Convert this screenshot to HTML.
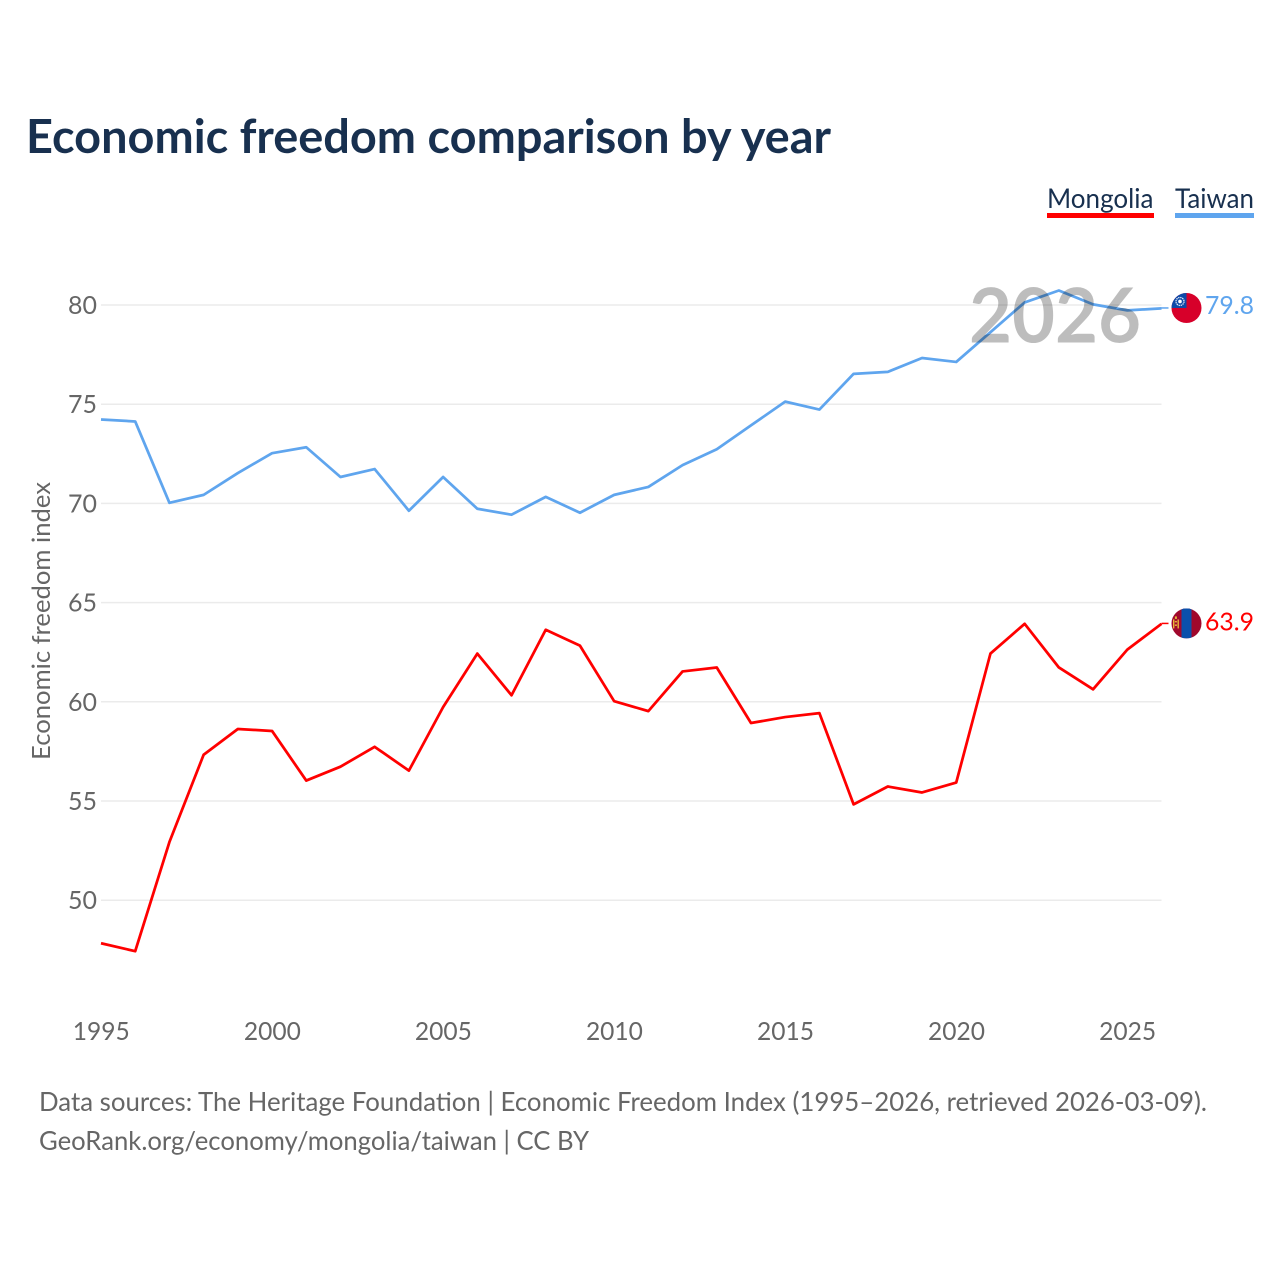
<!DOCTYPE html>
<html lang="en">
<head>
<meta charset="utf-8">
<title>Economic freedom comparison by year</title>
<style>
html,body{margin:0;padding:0;background:#fff;}
svg{display:block;}
text{font-family:"Lato","Carlito","Liberation Sans",sans-serif;}
</style>
</head>
<body>
<svg id="chart" width="1280" height="1280" viewBox="0 0 1280 1280" xmlns="http://www.w3.org/2000/svg">
  <defs>
    <clipPath id="clip-tw"><circle cx="0" cy="0" r="15"/></clipPath>
    <clipPath id="clip-mn"><circle cx="0" cy="0" r="15"/></clipPath>
  </defs>
  <rect x="0" y="0" width="1280" height="1280" fill="#ffffff"/>
  <text x="26" y="153" font-size="47" font-weight="700" fill="#18304f" textLength="805" lengthAdjust="spacingAndGlyphs">Economic freedom comparison by year</text>

  <g>
    <text x="1047" y="208" font-size="27.5" fill="#18304f" textLength="106.5" lengthAdjust="spacingAndGlyphs">Mongolia</text>
    <rect x="1047" y="213" width="107" height="5" fill="#ff0000"/>
  </g>
  <g>
    <text x="1175" y="208" font-size="27.5" fill="#18304f" textLength="79" lengthAdjust="spacingAndGlyphs">Taiwan</text>
    <rect x="1175" y="213" width="79" height="5" fill="#5fa5ee"/>
  </g>

  <g id="grid"></g>
  <g id="yticks"></g>
  <g id="xticks"></g>
  <text transform="translate(50,621) rotate(-90)" text-anchor="middle" font-size="25.5" fill="#666666" textLength="278" lengthAdjust="spacingAndGlyphs">Economic freedom index</text>

  <g id="series"></g>
  <g id="ends"></g>

  <text id="year-mark" x="1055" y="342.5" text-anchor="middle" font-size="76" font-weight="700" fill="#000000" fill-opacity="0.26" textLength="172" lengthAdjust="spacingAndGlyphs">2026</text>

  <text x="39" y="1111" font-size="26" fill="#666666" textLength="1168" lengthAdjust="spacingAndGlyphs">Data sources: The Heritage Foundation | Economic Freedom Index (1995–2026, retrieved 2026-03-09).</text>
  <text x="39" y="1150" font-size="26" fill="#666666" textLength="550" lengthAdjust="spacingAndGlyphs">GeoRank.org/economy/mongolia/taiwan | CC BY</text>
</svg>
<script>
const years = [1995,1996,1997,1998,1999,2000,2001,2002,2003,2004,2005,2006,2007,2008,2009,2010,2011,2012,2013,2014,2015,2016,2017,2018,2019,2020,2021,2022,2023,2024,2025,2026];
const taiwanValues = [74.2,74.1,70.0,70.4,71.5,72.5,72.8,71.3,71.7,69.6,71.3,69.7,69.4,70.3,69.5,70.4,70.8,71.9,72.7,73.9,75.1,74.7,76.5,76.6,77.3,77.1,78.6,80.1,80.7,80.0,79.7,79.8];
const mongoliaValues = [47.8,47.4,52.9,57.3,58.6,58.5,56.0,56.7,57.7,56.5,59.7,62.4,60.3,63.6,62.8,60.0,59.5,61.5,61.7,58.9,59.2,59.4,54.8,55.7,55.4,55.9,62.4,63.9,61.7,60.6,62.6,63.9];
const yTicks = [50,55,60,65,70,75,80];
const xTicks = [1995,2000,2005,2010,2015,2020,2025];

const NS = 'http://www.w3.org/2000/svg';
const PLOT_LEFT = 101, PLOT_RIGHT = 1161.5;
function xScale(year){ return PLOT_LEFT + (year - 1995) * (PLOT_RIGHT - PLOT_LEFT) / 31; }
function yScale(v){ return 305 + (80 - v) * 19.84; }
function make(tag, attrs){
  const el = document.createElementNS(NS, tag);
  Object.keys(attrs).forEach(function(k){ el.setAttribute(k, attrs[k]); });
  return el;
}

const grid = document.getElementById('grid');
const yticksG = document.getElementById('yticks');
yTicks.forEach(function(t){
  const line = make('line', {x1:PLOT_LEFT, x2:PLOT_RIGHT, y1:yScale(t), y2:yScale(t), stroke:'#ebebeb', 'stroke-width':1.5});
  
  
  grid.appendChild(line);
  const label = make('text', {x:97, y:yScale(t) + 9, 'text-anchor':'end', 'font-size':25.5, fill:'#666666', textLength:29, lengthAdjust:'spacingAndGlyphs'});
  
  
  label.textContent = t;
  yticksG.appendChild(label);
});

const xticksG = document.getElementById('xticks');
xTicks.forEach(function(t){
  const label = make('text', {x:xScale(t) + 0.3, y:1040, 'text-anchor':'middle', 'font-size':25.5, fill:'#666666', textLength:57, lengthAdjust:'spacingAndGlyphs'});
  
  
  label.textContent = t;
  xticksG.appendChild(label);
});

function pathFor(values){
  return values.map(function(v, i){ return (i ? 'L' : 'M') + xScale(years[i]).toFixed(2) + ' ' + (yScale(v) - 0.6).toFixed(2); }).join(' ');
}

const seriesG = document.getElementById('series');
const redLine = make('path', {d:pathFor(mongoliaValues), fill:'none', stroke:'#ff0000', 'stroke-width':2.75, 'stroke-linejoin':'round'});


seriesG.appendChild(redLine);
const blueLine = make('path', {d:pathFor(taiwanValues), fill:'none', stroke:'#5fa5ee', 'stroke-width':2.75, 'stroke-linejoin':'round'});


seriesG.appendChild(blueLine);

const ends = document.getElementById('ends');
const twLast = taiwanValues[taiwanValues.length - 1];
const mnLast = mongoliaValues[mongoliaValues.length - 1];
const twY = yScale(twLast) - 1;
const mnY = yScale(mnLast) - 1;

const twLink = make('line', {x1:PLOT_RIGHT, x2:1168.5, y1:twY, y2:twY, stroke:'#5fa5ee', 'stroke-width':1.5});


ends.appendChild(twLink);
const mnLink = make('line', {x1:PLOT_RIGHT, x2:1168.5, y1:mnY, y2:mnY, stroke:'#ff0000', 'stroke-width':1.5});


ends.appendChild(mnLink);

const twFlag = make('g', {transform:'translate(1186.5,' + twY + ')', 'clip-path':'url(#clip-tw)'});


twFlag.appendChild(make('rect', {x:-15, y:-15, width:30, height:30, fill:'#d7002a'}));
twFlag.appendChild(make('rect', {x:-15, y:-15, width:15, height:15, fill:'#0d4aa8'}));
twFlag.appendChild(make('circle', {cx:-6.5, cy:-6.5, r:4, fill:'none', stroke:'#dfe8f6', 'stroke-width':1.3, 'stroke-dasharray':'1.4 0.7'}));
twFlag.appendChild(make('circle', {cx:-6.5, cy:-6.5, r:1.8, fill:'#ffffff'}));
ends.appendChild(twFlag);

const mnFlag = make('g', {transform:'translate(1186.5,' + mnY + ')', 'clip-path':'url(#clip-mn)'});


mnFlag.appendChild(make('rect', {x:-15, y:-15, width:30, height:30, fill:'#a0082c'}));
mnFlag.appendChild(make('rect', {x:-5, y:-15, width:10, height:30, fill:'#0b50ab'}));
mnFlag.appendChild(make('rect', {x:-13.5, y:-4, width:1.4, height:9, fill:'#e8b838'}));
mnFlag.appendChild(make('rect', {x:-9, y:-4, width:1.4, height:9, fill:'#e8b838'}));
mnFlag.appendChild(make('rect', {x:-11.6, y:-7, width:2, height:2.5, fill:'#e8b838'}));
mnFlag.appendChild(make('rect', {x:-11.6, y:-2.5, width:2, height:1.5, fill:'#e8b838'}));
mnFlag.appendChild(make('rect', {x:-11.6, y:1, width:2, height:1.5, fill:'#e8b838'}));
ends.appendChild(mnFlag);

const twLabel = make('text', {x:1205, y:yScale(twLast) + 5, 'font-size':25.5, fill:'#5fa5ee', textLength:49, lengthAdjust:'spacingAndGlyphs'});


twLabel.textContent = twLast.toFixed(1);
ends.appendChild(twLabel);
const mnLabel = make('text', {x:1205, y:yScale(mnLast) + 6, 'font-size':25.5, fill:'#ff0000', textLength:49, lengthAdjust:'spacingAndGlyphs'});


mnLabel.textContent = mnLast.toFixed(1);
ends.appendChild(mnLabel);
</script>
</body>
</html>
